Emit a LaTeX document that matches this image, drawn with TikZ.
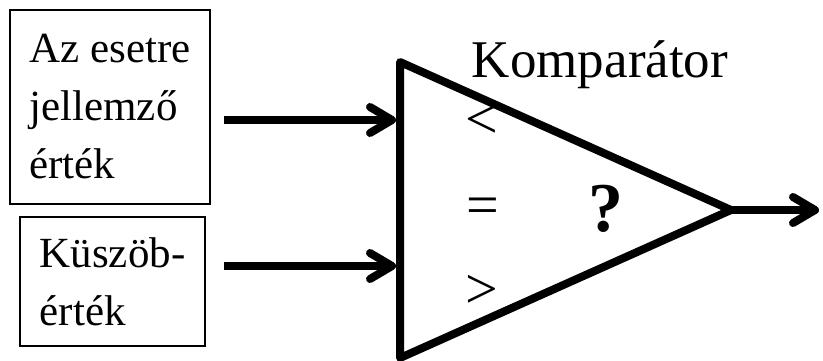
\documentclass[tikz,border=0pt]{standalone}
\usepackage{fontspec}
\setmainfont{Liberation Serif}
\usetikzlibrary{arrows.meta,positioning,calc}

\begin{document}
\begin{tikzpicture}[
  x=0.5pt, y=-0.5pt,
  box/.style={draw, line width=0.6pt, align=left,
              font=\fontsize{21.5}{29}\selectfont},
  tri/.style={line width=4pt, line join=round},
  a/.style={-{Straight Barb[length=11pt, width=13pt, round]}, line width=4pt},
  sgn/.style={font=\fontsize{29}{29}\selectfont, inner sep=0pt}]

\useasboundingbox (0,0) rectangle (823,360);

% =================== the two inputs ===============
\node[box, minimum width=100pt, minimum height=97pt] (eset) at (110,107)
      {Az esetre\\jellemző\\érték};
\node[box, minimum width=92.5pt, minimum height=64.5pt] (kuszob) at (112.5,281.5)
      {Küszöb-\\érték};

% =================== the comparator ===============
\coordinate (ftop) at (400,62);
\coordinate (falj) at (400,358);
\coordinate (csucs) at (731,210);
\draw[tri] (ftop) -- (csucs) -- (falj) -- cycle;

\node[font=\fontsize{26.5}{26.5}\selectfont, anchor=base] (cim) at (600,77) {Komparátor};
\node[sgn] (kisebb) at (482,122) {<};
\node[sgn] (egyenlo) at (483,211) {=};
\node[sgn] (nagyobb) at (482,292) {>};
\node[font=\fontsize{35}{35}\selectfont\bfseries, inner sep=0pt] (kerdes) at (606,209) {?};

% =================== connectors ===============
\coordinate (be1) at (400,120);
\coordinate (be2) at (400,266);
\coordinate (ki) at (819,210);
\draw[a, shorten <=6.5pt, shorten >=2pt] (eset.east |- be1) -- (be1);
\draw[a, shorten <=9pt, shorten >=2pt] (kuszob.east |- be2) -- (be2);
\draw[a] (csucs) -- (ki);
\end{tikzpicture}
\end{document}
